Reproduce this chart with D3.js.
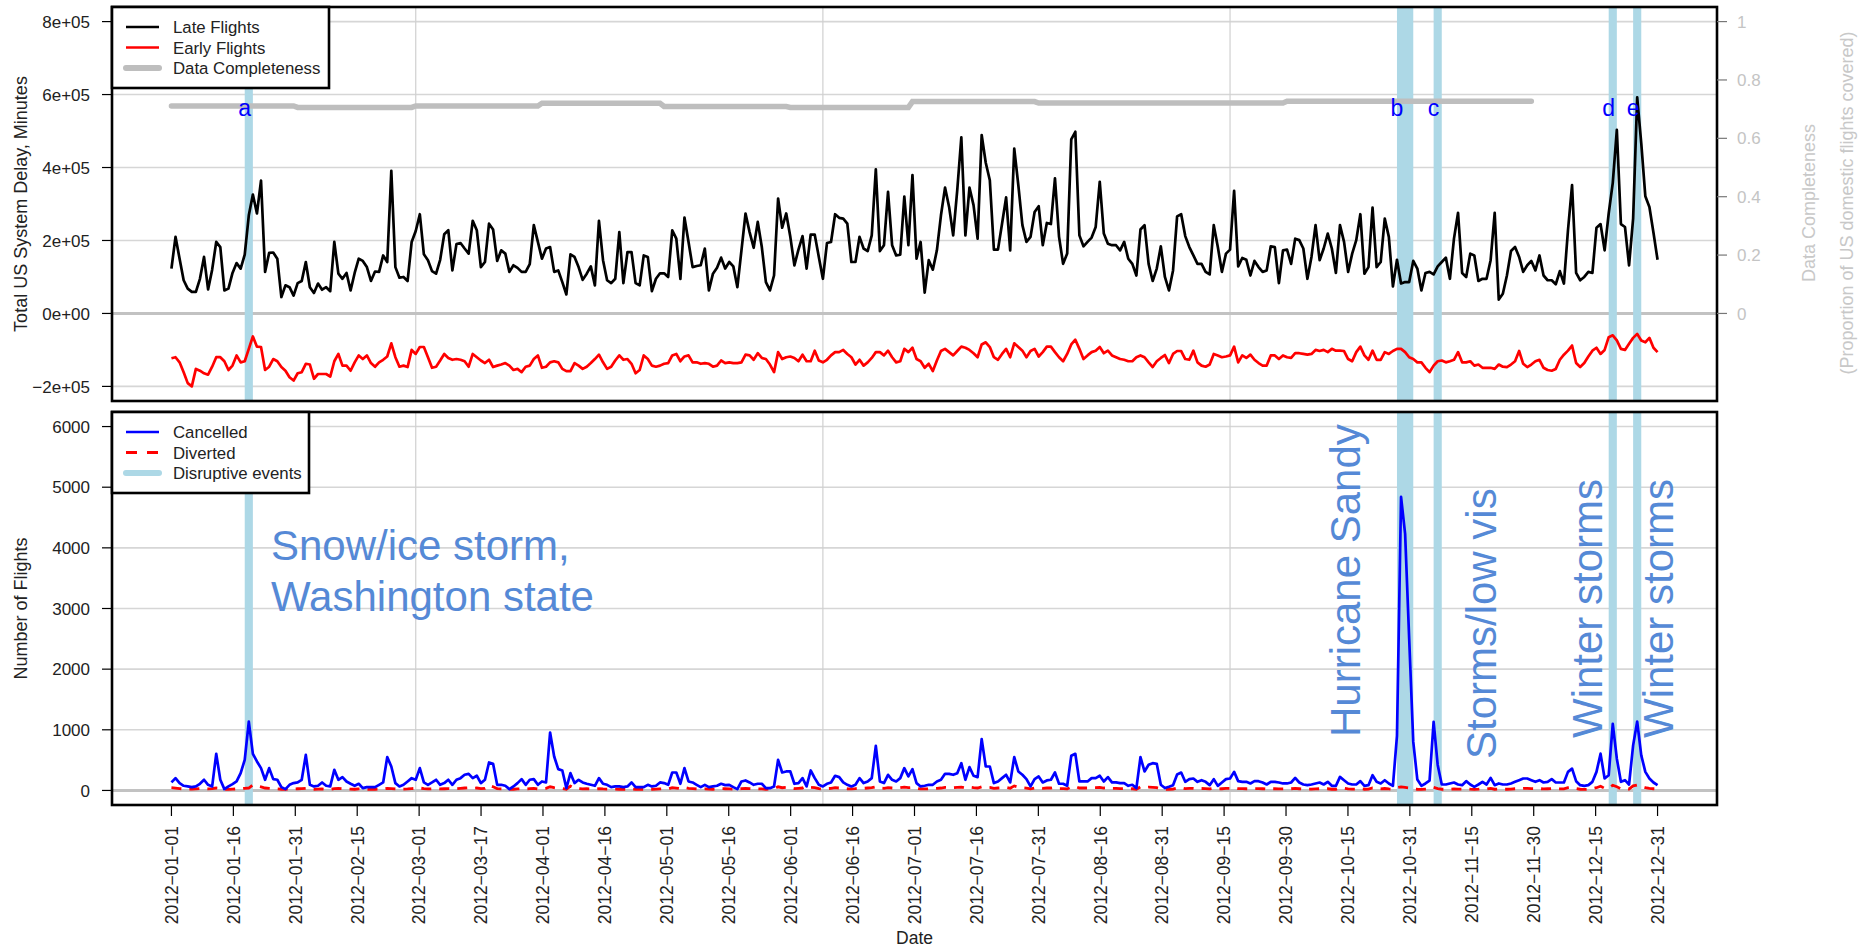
<!DOCTYPE html>
<html>
<head>
<meta charset="utf-8">
<script src="https://cdn.jsdelivr.net/npm/d3@7"></script>
<style>
  body { margin: 0; background: #fff; }
  svg { font-family: "Liberation Sans", Arial, Helvetica, sans-serif; }
</style>
</head>
<body>
<div id="chart"></div>
<script>
// daily values, one per day from startDate (2012 is a leap year: 366 days)
var startDate = "2012-01-01";

// total late minutes, thousands
var lateFlights = [
  123,210,150,91,68,59,59,95,155,66,
  120,196,182,63,68,111,138,123,161,269,
  326,274,364,114,166,167,150,45,77,72,
  49,83,89,141,72,56,82,65,72,61,
  196,109,95,111,63,111,150,144,127,89,
  115,114,159,141,391,127,98,100,89,196,
  226,272,162,146,116,109,147,217,228,118,
  190,193,178,164,254,228,127,141,246,230,
  144,173,164,114,132,125,114,114,135,242,
  196,150,178,182,114,118,86,52,162,155,
  127,92,109,129,77,254,146,91,83,95,
  223,83,168,168,83,77,159,155,61,95,
  110,110,100,228,205,95,263,196,127,130,
  132,178,63,109,125,153,123,141,129,72,
  173,274,223,180,251,182,86,63,104,315,
  235,274,210,132,175,212,123,216,216,155,
  95,193,196,272,262,260,246,141,141,210,
  178,171,214,395,171,187,333,187,159,161,
  320,187,379,150,196,57,146,120,173,269,
  345,292,214,338,483,214,345,297,205,489,
  413,365,175,175,246,318,173,452,352,242,
  196,210,278,294,187,248,245,370,210,136,
  164,477,498,214,184,196,208,237,361,219,
  191,187,187,173,196,150,136,104,230,242,
  136,89,123,184,100,63,118,266,272,212,
  182,159,136,136,114,107,242,182,114,164,
  175,336,129,152,147,104,144,127,114,118,
  184,182,83,173,175,136,205,201,178,95,
  155,242,146,178,219,178,111,242,196,114,
  164,201,272,109,127,290,127,141,260,210,
  74,147,82,86,86,144,123,63,111,114,
  107,129,141,153,95,205,276,111,100,164,
  159,89,95,95,146,276,38,54,104,171,
  182,155,114,132,144,118,159,104,91,91,
  80,116,82,228,352,111,91,100,114,111,
  235,245,173,274,358,503,245,237,132,260,
  592,466,321,292,221,147
];

// total early minutes (negative), thousands
var earlyFlights = [
  -123,-120,-134,-161,-191,-200,-152,-157,-164,-168,
  -146,-120,-120,-131,-155,-143,-115,-134,-131,-97,
  -63,-91,-92,-155,-146,-125,-131,-147,-157,-175,
  -184,-164,-161,-138,-140,-179,-166,-166,-166,-173,
  -131,-111,-143,-143,-157,-134,-115,-125,-115,-136,
  -146,-134,-127,-118,-82,-120,-146,-143,-147,-100,
  -111,-92,-92,-120,-149,-146,-129,-111,-122,-127,
  -125,-127,-131,-146,-111,-120,-129,-136,-127,-147,
  -143,-140,-136,-143,-155,-152,-161,-146,-143,-125,
  -115,-149,-146,-134,-131,-134,-152,-158,-158,-136,
  -143,-152,-146,-136,-125,-113,-134,-152,-146,-129,
  -115,-127,-125,-138,-164,-155,-115,-125,-143,-146,
  -143,-138,-136,-115,-111,-131,-118,-115,-134,-134,
  -138,-136,-138,-146,-143,-129,-136,-134,-136,-136,
  -134,-113,-115,-127,-109,-122,-125,-140,-161,-106,
  -125,-120,-118,-122,-131,-113,-131,-131,-102,-129,
  -134,-127,-115,-106,-106,-100,-111,-120,-140,-127,
  -143,-134,-122,-106,-106,-115,-102,-120,-134,-131,
  -97,-106,-94,-125,-131,-149,-138,-158,-129,-103,
  -97,-106,-115,-103,-91,-94,-100,-109,-120,-85,
  -79,-92,-120,-127,-111,-97,-120,-82,-92,-102,
  -120,-103,-97,-118,-106,-91,-91,-106,-120,-131,
  -111,-85,-72,-97,-125,-115,-106,-102,-92,-109,
  -102,-115,-120,-125,-127,-131,-131,-120,-115,-120,
  -134,-147,-131,-122,-114,-136,-111,-103,-103,-125,
  -127,-102,-134,-143,-146,-140,-111,-115,-120,-118,
  -115,-91,-134,-115,-122,-113,-127,-136,-143,-143,
  -115,-115,-125,-115,-120,-122,-109,-109,-111,-113,
  -111,-100,-103,-100,-106,-97,-102,-102,-103,-125,
  -131,-106,-91,-115,-127,-102,-127,-127,-106,-111,
  -103,-97,-97,-106,-120,-125,-134,-134,-149,-161,
  -143,-131,-129,-134,-131,-127,-106,-134,-134,-131,
  -143,-140,-149,-149,-149,-152,-140,-146,-147,-140,
  -131,-103,-138,-147,-140,-131,-127,-149,-155,-157,
  -152,-127,-113,-102,-88,-136,-147,-136,-118,-102,
  -94,-111,-100,-65,-60,-74,-97,-100,-83,-67,
  -56,-74,-79,-67,-94,-106
];

// share of US domestic flights covered, by month (Jan..Nov, no December data)
var monthCompleteness = [0.711, 0.706, 0.711, 0.720, 0.709, 0.706, 0.726, 0.721, 0.721, 0.727, 0.727];

// number of cancelled flights
var cancelled = [
  132,203,121,77,66,55,66,110,176,93,
  66,604,176,22,66,104,148,285,505,1136,
  604,478,368,176,368,187,176,55,22,93,
  121,132,176,587,93,66,77,132,77,66,
  340,176,220,148,110,77,110,38,55,55,
  55,93,132,549,395,121,66,93,148,203,
  176,368,132,93,132,176,93,121,176,93,
  176,203,258,274,203,242,121,176,461,439,
  93,93,77,22,66,121,187,93,176,187,
  93,148,132,955,560,351,329,38,285,121,
  176,132,110,93,77,203,110,93,55,66,
  66,55,66,132,55,55,55,93,66,77,
  132,121,93,296,296,110,368,148,132,93,
  55,93,55,66,77,110,88,93,55,22,
  148,165,132,93,110,110,38,38,66,505,
  296,313,313,110,121,203,66,329,203,93,
  66,110,132,242,220,132,93,66,93,203,
  121,148,203,736,148,121,258,176,148,203,
  368,231,351,121,66,77,93,93,148,176,
  274,274,258,285,450,176,384,242,220,845,
  395,395,121,148,203,258,132,549,313,258,
  187,66,187,231,132,165,176,296,110,110,
  77,571,604,148,148,148,203,203,242,148,
  220,132,132,121,121,77,93,38,549,313,
  423,450,439,93,40,60,87,262,295,142,
  186,197,142,169,142,87,186,76,131,186,
  197,306,153,142,142,115,153,153,131,98,
  142,142,131,115,115,131,207,131,98,87,
  98,115,131,98,142,76,76,224,169,115,
  98,98,153,76,87,251,142,115,169,115,
  76,900,4840,4230,2500,800,180,76,115,160,
  1130,420,98,98,115,131,98,87,153,98,
  60,98,142,98,207,87,115,98,98,115,
  142,169,197,197,169,142,169,131,142,186,
  131,131,131,306,360,153,87,76,87,142,
  306,606,197,251,1097,524,142,169,98,743,
  1136,579,306,197,131,87
];

// number of diverted flights
var diverted = [
  45,40,30,25,20,22,25,30,28,25,
  30,40,35,20,18,22,25,30,35,40,
  90,75,60,40,35,30,25,20,18,22,
  25,28,30,35,25,20,22,25,20,18,
  30,35,30,25,22,20,25,22,20,18,
  20,22,25,35,30,25,20,22,25,30,
  35,40,30,25,28,30,25,28,30,25,
  30,35,40,45,35,40,30,35,85,60,
  30,25,22,18,20,25,30,25,30,35,
  25,30,35,60,45,35,30,20,70,35,
  30,25,28,25,22,30,25,22,20,22,
  20,18,20,25,20,18,20,22,20,22,
  25,28,25,45,40,28,50,35,30,25,
  20,25,22,20,25,30,28,25,20,18,
  30,35,30,25,28,25,20,22,25,60,
  45,50,45,30,35,40,70,50,45,30,
  25,30,35,45,40,35,28,25,30,40,
  35,40,45,60,40,35,45,40,35,45,
  55,45,50,35,25,25,28,30,35,40,
  50,50,45,50,55,40,55,45,40,60,
  55,50,35,40,45,50,35,75,55,45,
  40,25,40,45,35,40,40,50,30,30,
  25,60,65,40,40,40,45,45,50,40,
  45,35,35,30,30,25,28,20,60,45,
  55,50,45,25,20,20,22,40,45,30,
  35,35,30,32,30,25,35,22,28,35,
  35,45,30,30,28,25,30,30,28,22,
  28,28,25,25,25,28,35,28,22,20,
  22,25,28,22,28,20,20,40,35,25,
  22,22,30,20,22,40,30,25,32,25,
  20,45,60,50,40,25,20,18,22,25,
  50,30,20,20,22,25,22,20,28,22,
  18,22,28,22,35,20,22,20,20,22,
  28,30,35,35,30,28,30,25,28,32,
  25,25,25,45,50,30,20,18,20,28,
  45,70,35,40,85,60,28,30,22,75,
  90,65,45,35,28,22
];

// disruptive events
var eventLetters = ["a", "b", "c", "d", "e"];
var eventStart = ["2012-01-19", "2012-10-28", "2012-11-06", "2012-12-19", "2012-12-25"];
var eventEnd   = ["2012-01-21", "2012-11-01", "2012-11-08", "2012-12-21", "2012-12-27"];

// axis ticks
var topTicks = [-2e5, 0, 2e5, 4e5, 6e5, 8e5];
var topTickLabels = ["\u22122e+05", "0e+00", "2e+05", "4e+05", "6e+05", "8e+05"];
var rightTicks = [0, 0.2, 0.4, 0.6, 0.8, 1];
var rightTickLabels = ["0", "0.2", "0.4", "0.6", "0.8", "1"];
var bottomTicks = [0, 1000, 2000, 3000, 4000, 5000, 6000];
var dateTickLabels = [
  "2012-01-01", "2012-01-16", "2012-01-31", "2012-02-15", "2012-03-01",
  "2012-03-17", "2012-04-01", "2012-04-16", "2012-05-01", "2012-05-16",
  "2012-06-01", "2012-06-16", "2012-07-01", "2012-07-16", "2012-07-31",
  "2012-08-16", "2012-08-31", "2012-09-15", "2012-09-30", "2012-10-15",
  "2012-10-31", "2012-11-15", "2012-11-30", "2012-12-15", "2012-12-31"
];

// ---------------------------------------------------------------

var svgWidth = 1866;
var svgHeight = 947;
var plotLeft = 112, plotRight = 1717;
var topPanel = {top: 7, bottom: 401};
var botPanel = {top: 412, bottom: 805};
var annColor = "#5589d6";
var tickFont = 17;
var lineW = 2.7;

var parseDate = d3.utcParse("%Y-%m-%d");
var day0 = parseDate(startDate);
var days = lateFlights.map(function(v, i) { return d3.utcDay.offset(day0, i); });

var svg = d3.select("#chart")
  .append("svg")
  .attr("width", svgWidth)
  .attr("height", svgHeight);

// R style axis padding (4% each side)
var first = days[0], last = days[days.length - 1];
var pad = (last - first) * 0.04;
var xScale = d3.scaleUtc()
  .domain([new Date(+first - pad), new Date(+last + pad)])
  .range([plotLeft, plotRight]);

function padded(lo, hi) {
  var p = (hi - lo) * 0.04;
  return [lo - p, hi + p];
}
var yTop = d3.scaleLinear()
  .domain(padded(-2e5, 8e5))
  .range([topPanel.bottom, topPanel.top]);
var yBot = d3.scaleLinear()
  .domain(padded(0, 6000))
  .range([botPanel.bottom, botPanel.top]);

// vertical grid at pretty day numbers (days since 1970)
var dayNum = function(d) { return d / 864e5; };
var gridDates = d3.ticks(dayNum(first), dayNum(last), 4).map(function(n) { return new Date(n * 864e5); });

// completeness as a daily series (month value repeated)
var completeness = days
  .filter(function(d) { return d.getUTCMonth() < monthCompleteness.length; })
  .map(function(d) { return monthCompleteness[d.getUTCMonth()]; });

var events = eventStart.map(function(s, i) {
  return {letter: eventLetters[i], start: parseDate(s), end: parseDate(eventEnd[i])};
});

function drawPanel(panel, yScale, ticks) {
  var g = svg.append("g");
  // horizontal grid
  g.selectAll(".hgrid")
    .data(ticks.filter(function(t) { return t !== 0; }))
    .enter().append("line")
    .attr("x1", plotLeft).attr("x2", plotRight)
    .attr("y1", function(d) { return yScale(d); })
    .attr("y2", function(d) { return yScale(d); })
    .attr("stroke", "#d6d6d6").attr("stroke-width", 1.6);
  // vertical grid
  g.selectAll(".vgrid")
    .data(gridDates)
    .enter().append("line")
    .attr("x1", function(d) { return xScale(d); })
    .attr("x2", function(d) { return xScale(d); })
    .attr("y1", panel.top).attr("y2", panel.bottom)
    .attr("stroke", "#d0d0d0").attr("stroke-width", 1.2);
  // zero line
  g.append("line")
    .attr("x1", plotLeft).attr("x2", plotRight)
    .attr("y1", yScale(0)).attr("y2", yScale(0))
    .attr("stroke", "#c2c2c2").attr("stroke-width", 3);
  // disruptive event bands
  g.selectAll(".band")
    .data(events)
    .enter().append("rect")
    .attr("x", function(d) { return xScale(d.start); })
    .attr("width", function(d) { return xScale(d.end) - xScale(d.start); })
    .attr("y", panel.top)
    .attr("height", panel.bottom - panel.top)
    .attr("fill", "#add8e6");
  return g;
}

function leftAxis(yScale, ticks, labels) {
  var g = svg.append("g");
  g.selectAll("line")
    .data(ticks).enter().append("line")
    .attr("x1", plotLeft - 10).attr("x2", plotLeft)
    .attr("y1", function(d) { return yScale(d); })
    .attr("y2", function(d) { return yScale(d); })
    .attr("stroke", "#000").attr("stroke-width", 1.2);
  g.selectAll("text")
    .data(ticks).enter().append("text")
    .attr("x", plotLeft - 22)
    .attr("y", function(d) { return yScale(d); })
    .attr("dy", "0.36em")
    .attr("text-anchor", "end")
    .attr("font-size", tickFont)
    .attr("fill", "#222")
    .text(function(d, i) { return labels[i]; });
}

function frame(panel) {
  svg.append("rect")
    .attr("x", plotLeft).attr("y", panel.top)
    .attr("width", plotRight - plotLeft)
    .attr("height", panel.bottom - panel.top)
    .attr("fill", "none")
    .attr("stroke", "#000")
    .attr("stroke-width", 2.6);
}

function legend(x, y, w, h, items) {
  var g = svg.append("g");
  g.append("rect")
    .attr("x", x).attr("y", y).attr("width", w).attr("height", h)
    .attr("fill", "#fff").attr("stroke", "#000").attr("stroke-width", 2.6);
  items.forEach(function(it, i) {
    var cy = y + 20 + i * 20.5;
    g.append("line")
      .attr("x1", x + 14).attr("x2", x + 47)
      .attr("y1", cy).attr("y2", cy)
      .attr("stroke", it.color)
      .attr("stroke-width", it.width)
      .attr("stroke-linecap", it.width > 4 ? "round" : "butt")
      .attr("stroke-dasharray", it.dash || null);
    g.append("text")
      .attr("x", x + 61).attr("y", cy)
      .attr("dy", "0.36em")
      .attr("font-size", 16.8)
      .attr("fill", "#222")
      .text(it.label);
  });
}

// ---------------- top panel ----------------
var topG = drawPanel(topPanel, yTop, topTicks);

var lineTop = function(scale) {
  return d3.line()
    .x(function(d, i) { return xScale(days[i]); })
    .y(function(d) { return yTop(d * scale); });
};

topG.append("path")
  .datum(completeness)
  .attr("d", lineTop(8e5))
  .attr("fill", "none")
  .attr("stroke", "#bebebe")
  .attr("stroke-width", 5.5)
  .attr("stroke-linecap", "round");

topG.append("path")
  .datum(earlyFlights)
  .attr("d", lineTop(1000))
  .attr("fill", "none")
  .attr("stroke", "#ff0000")
  .attr("stroke-width", lineW)
  .attr("stroke-linejoin", "round");

topG.append("path")
  .datum(lateFlights)
  .attr("d", lineTop(1000))
  .attr("fill", "none")
  .attr("stroke", "#000")
  .attr("stroke-width", lineW)
  .attr("stroke-linejoin", "round");

// event letters
topG.selectAll(".letter")
  .data(events)
  .enter().append("text")
  .attr("x", function(d) { return xScale(d.start); })
  .attr("y", 116)
  .attr("text-anchor", "middle")
  .attr("font-size", 23)
  .attr("fill", "#0000ff")
  .text(function(d) { return d.letter; });

frame(topPanel);
leftAxis(yTop, topTicks, topTickLabels);

// right axis: data completeness
var rightG = svg.append("g");
rightG.selectAll("line")
  .data(rightTicks).enter().append("line")
  .attr("x1", plotRight).attr("x2", plotRight + 10)
  .attr("y1", function(d) { return yTop(d * 8e5); })
  .attr("y2", function(d) { return yTop(d * 8e5); })
  .attr("stroke", "#777").attr("stroke-width", 1.2);
rightG.selectAll("text")
  .data(rightTicks).enter().append("text")
  .attr("x", plotRight + 20)
  .attr("y", function(d) { return yTop(d * 8e5); })
  .attr("dy", "0.36em")
  .attr("font-size", tickFont)
  .attr("fill", "#c4c4c4")
  .text(function(d, i) { return rightTickLabels[i]; });

legend(plotLeft, topPanel.top, 217, 81, [
  {label: "Late Flights", color: "#000", width: lineW},
  {label: "Early Flights", color: "#ff0000", width: lineW},
  {label: "Data Completeness", color: "#bebebe", width: 6}
]);

// ---------------- bottom panel ----------------
var botG = drawPanel(botPanel, yBot, bottomTicks);

var lineBot = d3.line()
  .x(function(d, i) { return xScale(days[i]); })
  .y(function(d) { return yBot(d); });

botG.append("path")
  .datum(diverted)
  .attr("d", lineBot)
  .attr("fill", "none")
  .attr("stroke", "#ff0000")
  .attr("stroke-width", 2.8)
  .attr("stroke-dasharray", "10,8");

botG.append("path")
  .datum(cancelled)
  .attr("d", lineBot)
  .attr("fill", "none")
  .attr("stroke", "#0000ff")
  .attr("stroke-width", lineW)
  .attr("stroke-linejoin", "round");

// event annotations
botG.append("text")
  .attr("x", 271).attr("y", 560)
  .attr("font-size", 42).attr("fill", annColor)
  .selectAll("tspan")
  .data(["Snow/ice storm,", "Washington state"])
  .enter().append("tspan")
  .attr("x", 271)
  .attr("dy", function(d, i) { return i === 0 ? 0 : 51; })
  .text(function(d) { return d; });

var vertNotes = [
  {text: "Hurricane Sandy", x: 1360, y: 737},
  {text: "Storms/low vis", x: 1496, y: 759},
  {text: "Winter storms", x: 1602, y: 738},
  {text: "Winter storms", x: 1673, y: 738}
];
botG.selectAll(".vnote")
  .data(vertNotes)
  .enter().append("text")
  .attr("transform", function(d) { return "translate(" + d.x + "," + d.y + ") rotate(-90)"; })
  .attr("font-size", 42)
  .attr("fill", annColor)
  .text(function(d) { return d.text; });

frame(botPanel);
leftAxis(yBot, bottomTicks, bottomTicks.map(String));

legend(plotLeft, botPanel.top, 197, 81, [
  {label: "Cancelled", color: "#0000ff", width: lineW},
  {label: "Diverted", color: "#ff0000", width: 2.8, dash: "11,10"},
  {label: "Disruptive events", color: "#add8e6", width: 6}
]);

// ---------------- date axis ----------------
var tickDates = d3.range(dateTickLabels.length).map(function(i) {
  return new Date(+first + (last - first) * i / (dateTickLabels.length - 1));
});
var xAxisG = svg.append("g");
xAxisG.selectAll("line")
  .data(tickDates).enter().append("line")
  .attr("x1", function(d) { return xScale(d); })
  .attr("x2", function(d) { return xScale(d); })
  .attr("y1", botPanel.bottom).attr("y2", botPanel.bottom + 11)
  .attr("stroke", "#000").attr("stroke-width", 1.2);
xAxisG.selectAll("text")
  .data(tickDates).enter().append("text")
  .attr("transform", function(d) { return "translate(" + xScale(d) + "," + (botPanel.bottom + 21) + ") rotate(-90)"; })
  .attr("dy", "0.36em")
  .attr("text-anchor", "end")
  .attr("font-size", 17.5)
  .attr("fill", "#222")
  .text(function(d, i) { return dateTickLabels[i].replace(/-/g, "\u2212"); });

// ---------------- axis titles ----------------
svg.append("text")
  .attr("x", (plotLeft + plotRight) / 2).attr("y", 944)
  .attr("text-anchor", "middle")
  .attr("font-size", 17.5).attr("fill", "#222")
  .text("Date");

var titles = [
  {text: "Total US System Delay, Minutes", x: 27, y: (topPanel.top + topPanel.bottom) / 2, color: "#222"},
  {text: "Number of Flights", x: 27, y: (botPanel.top + botPanel.bottom) / 2, color: "#222"},
  {text: "Data Completeness", x: 1815, y: 203, color: "#c8c8c8"},
  {text: "(Proportion of US domestic flights covered)", x: 1853, y: 203, color: "#c8c8c8"}
];
svg.selectAll(".title")
  .data(titles)
  .enter().append("text")
  .attr("transform", function(d) { return "translate(" + d.x + "," + d.y + ") rotate(-90)"; })
  .attr("text-anchor", "middle")
  .attr("font-size", 18)
  .attr("fill", function(d) { return d.color; })
  .text(function(d) { return d.text; });
</script>
</body>
</html>
